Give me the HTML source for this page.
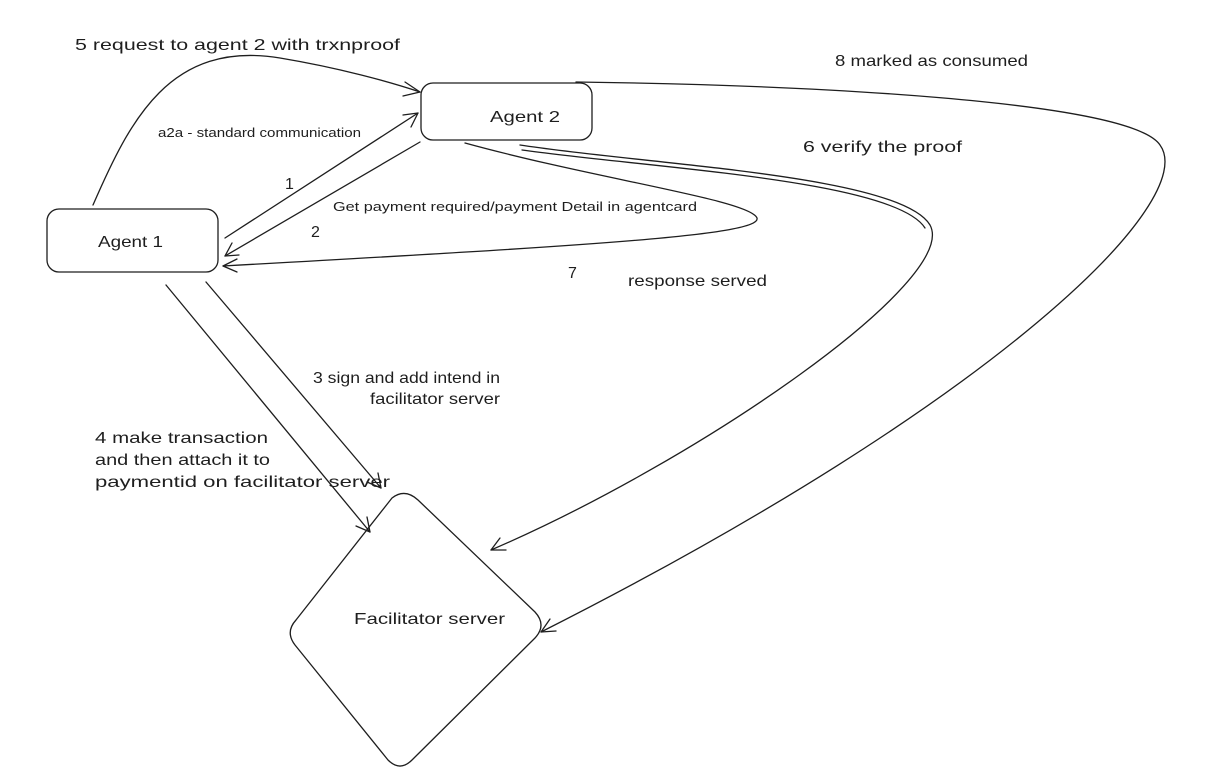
<!DOCTYPE html>
<html><head><meta charset="utf-8"><style>
html,body{margin:0;padding:0;background:#fff;}
svg{display:block}
text{font-family:"Liberation Sans",sans-serif;fill:#1e1e1e}
</style></head><body>
<svg width="1205" height="777" viewBox="0 0 1205 777" xmlns="http://www.w3.org/2000/svg">
<g fill="none" stroke="#1e1e1e" stroke-width="1.3" stroke-linecap="round" stroke-linejoin="round">
<rect x="421" y="83" width="171" height="57" rx="12"/>
<rect x="47" y="209" width="171" height="63" rx="12"/>
<path d="M392 498 Q405 488 418 500 L535 612 Q547 625 535 638 L412 760 Q400 772 388 760 L295 645 Q285 632 296 620 Z"/>
<path d="M93 205 C130 120 170 40 280 58 C340 68 390 82 420 92"/>
<path d="M405 82 L420 92 L403 96"/>
<path d="M225 238 L418 113"/>
<path d="M403 115 L418 113 L411 127"/>
<path d="M420 142 L225 256"/>
<path d="M232 243 L225 256 L239 255"/>
<path d="M465 143 C600 180 750 200 757 218 C762 235 600 245 223 266"/>
<path d="M237 259 L223 266 L237 272"/>
<path d="M206 282 L381 488"/>
<path d="M378 473 L381 488 L367 482"/>
<path d="M166 285 L370 532"/>
<path d="M367 517 L370 532 L356 526"/>
<path d="M520 145 C650 165 900 175 930 225 C960 280 700 460 491 550"/>
<path d="M500 538 L491 550 L506 550"/>
<path d="M522 150 C650 168 895 180 925 228"/>
<path d="M576 82 C800 85 1130 100 1160 145 C1200 200 1000 400 541 632"/>
<path d="M550 619 L541 632 L556 631"/>
</g>
<g font-size="16">
<text x="75" y="50" textLength="325" lengthAdjust="spacingAndGlyphs">5 request to agent 2 with trxnproof</text>
<text x="835" y="66" textLength="193" lengthAdjust="spacingAndGlyphs">8 marked as consumed</text>
<text x="490" y="122" textLength="70" lengthAdjust="spacingAndGlyphs">Agent 2</text>
<text x="803" y="152" textLength="159" lengthAdjust="spacingAndGlyphs">6 verify the proof</text>
<text x="285" y="189">1</text>
<text x="98" y="247" textLength="65" lengthAdjust="spacingAndGlyphs">Agent 1</text>
<text x="311" y="237">2</text>
<text x="568" y="278">7</text>
<text x="628" y="286" textLength="139" lengthAdjust="spacingAndGlyphs">response served</text>
<text x="313" y="383" textLength="187" lengthAdjust="spacingAndGlyphs">3 sign and add intend in</text>
<text x="370" y="404" textLength="130" lengthAdjust="spacingAndGlyphs">facilitator server</text>
<text x="95" y="443" textLength="173" lengthAdjust="spacingAndGlyphs">4  make transaction</text>
<text x="95" y="465" textLength="175" lengthAdjust="spacingAndGlyphs">and then attach it to</text>
<text x="95" y="487" textLength="295" lengthAdjust="spacingAndGlyphs">paymentid on facilitator server</text>
<text x="354" y="624" textLength="151" lengthAdjust="spacingAndGlyphs">Facilitator server</text>
</g>
<g font-size="12.5">
<text x="158" y="137" textLength="203" lengthAdjust="spacingAndGlyphs">a2a - standard communication</text>
<text x="333" y="211" textLength="364" lengthAdjust="spacingAndGlyphs">Get payment required/payment Detail in agentcard</text>
</g>
</svg>
</body></html>
